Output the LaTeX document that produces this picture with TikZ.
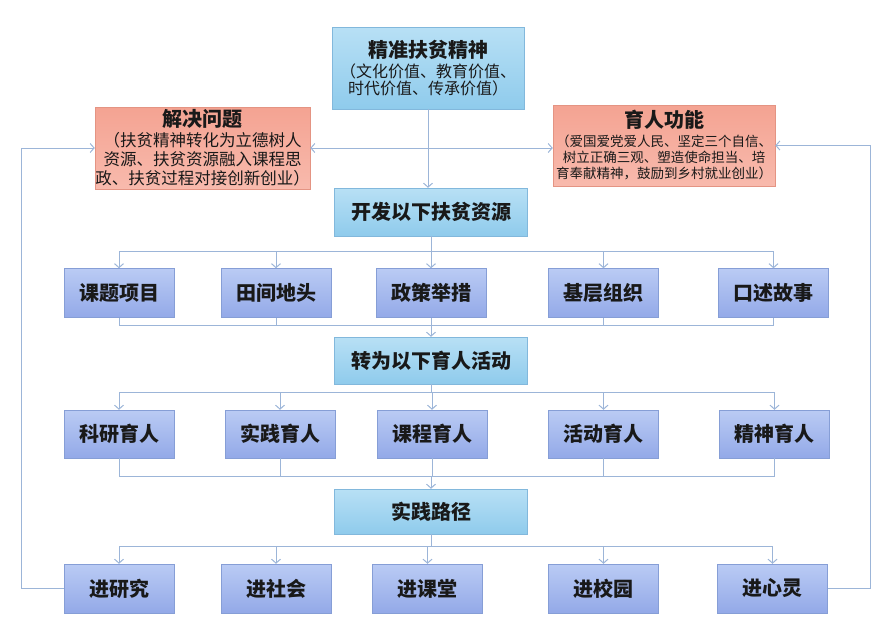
\documentclass[tikz,border=0pt]{standalone}
\usepackage{fontspec}
\setmainfont{Noto Sans CJK SC}
\usetikzlibrary{arrows.meta}

\definecolor{linec}{HTML}{9CB5D8}
\definecolor{mainA}{HTML}{B8E0F5}
\definecolor{mainB}{HTML}{8FCBEC}
\definecolor{mainD}{HTML}{82B8DC}
\definecolor{itemA}{HTML}{BACBF4}
\definecolor{itemB}{HTML}{93A9E8}
\definecolor{itemD}{HTML}{869ED6}
\definecolor{noteA}{HTML}{F4A392}
\definecolor{noteB}{HTML}{F8BAAD}
\definecolor{noteD}{HTML}{E49483}

\tikzset{
    box/.style={inner sep=0pt, text=black!90, font=\bfseries\fontsize{20}{24}\selectfont},
    mainbox/.style={box, draw=mainD, top color=mainA, bottom color=mainB, minimum width=193pt},
    itembox/.style={box, draw=itemD, top color=itemA, bottom color=itemB, minimum width=110pt, minimum height=49pt},
    notebox/.style={box, draw=noteD, top color=noteA, bottom color=noteB, align=center},
    link/.style={draw=linec, line width=1pt},
    arr/.style={link, -{Straight Barb[length=4pt,width=9pt]}},
}

\begin{document}
\begin{tikzpicture}[x=1pt, y=-1pt]
    \useasboundingbox (0,0) rectangle (892,637);

    %Kopf
    \node[mainbox, minimum width=192pt, minimum height=82pt, align=center,
          font=\fontsize{16}{17}\selectfont] (top) at (428,68)
        {{\bfseries\fontsize{20}{24}\selectfont 精准扶贫精神}\\[3pt]（文化价值、教育价值、\\时代价值、传承价值）};
    \node[notebox, minimum width=215pt, minimum height=82pt,
          font=\fontsize{16.5}{19}\selectfont] (jjwt) at (202.5,148)
        {{\bfseries\fontsize{20}{24}\selectfont 解决问题}\\[1pt]（扶贫精神转化为立德树人\\资源、扶贫资源融入课程思\\政、扶贫过程对接创新创业）};
    \node[notebox, minimum width=222pt, minimum height=81pt,
          font=\fontsize{13.5}{16}\selectfont] (yrgn) at (664,145.5)
        {{\bfseries\fontsize{20}{24}\selectfont 育人功能}\\[3pt]（爱国爱党爱人民、坚定三个自信、\\树立正确三观、塑造使命担当、培\\育奉献精神，鼓励到乡村就业创业）};

    %Mittelspalte
    \node[mainbox, minimum height=48pt] (kfzy) at (431,212) {开发以下扶贫资源};
    \node[mainbox, minimum height=47pt] (zwhd) at (431,360.5) {转为以下育人活动};
    \node[mainbox, minimum height=45pt] (sjlj) at (431,511.5) {实践路径};

    %Zeilen
    \foreach \n/\x/\t in {ktxm/119/课题项目, tjdt/276/田间地头, zcjc/431/政策举措, jczz/603.5/基层组织, ksgs/773.5/口述故事} {
        \node[itembox] (\n) at (\x,293) {\t};
    }
    \foreach \n/\x/\t in {kyyr/119/科研育人, sjyr/280/实践育人, kcyr/432/课程育人, hdyr/603.5/活动育人, jsyr/774.5/精神育人} {
        \node[itembox, minimum height=48pt] (\n) at (\x,434) {\t};
    }
    \foreach \n/\x/\t in {jyj/119/进研究, jsh/276/进社会, jkt/427.5/进课堂, jxy/603.5/进校园, jxl/772.5/进心灵} {
        \node[itembox] (\n) at (\x,588.5) {\t};
    }

    %Verbindungen oben
    \draw[arr] (top.south) -- (top.south |- kfzy.north);
    \draw[link, {Straight Barb[length=4pt,width=9pt]}-{Straight Barb[length=4pt,width=9pt]}]
        (jjwt.east) -- (jjwt.east -| yrgn.west);

    %Sammelschienen
    \coordinate (a1) at (0,251);
    \coordinate (b1) at (0,325);
    \coordinate (a2) at (0,392);
    \coordinate (b2) at (0,476);
    \coordinate (a3) at (0,546);
    \draw[link] (kfzy) -- (kfzy.south |- a1);
    \draw[link] (ktxm.north |- a1) -- (ksgs.north |- a1);
    \draw[link] (ktxm.south |- b1) -- (ksgs.south |- b1);
    \draw[link] (zwhd) -- (zwhd.south |- a2);
    \draw[link] (kyyr.north |- a2) -- (jsyr.north |- a2);
    \draw[link] (kyyr.south |- b2) -- (jsyr.south |- b2);
    \draw[link] (sjlj) -- (sjlj.south |- a3);
    \draw[link] (jyj.north |- a3) -- (jxl.north |- a3);
    \foreach \n in {ktxm, tjdt, zcjc, jczz, ksgs} {
        \draw[arr] (\n.north |- a1) -- (\n.north);
        \draw[link] (\n.south) -- (\n.south |- b1);
    }
    \foreach \n in {kyyr, sjyr, kcyr, hdyr, jsyr} {
        \draw[arr] (\n.north |- a2) -- (\n.north);
        \draw[link] (\n.south) -- (\n.south |- b2);
    }
    \foreach \n in {jyj, jsh, jkt, jxy, jxl} {
        \draw[arr] (\n.north |- a3) -- (\n.north);
    }
    \draw[arr] (zwhd.north |- b1) -- (zwhd.north);
    \draw[arr] (sjlj.north |- b2) -- (sjlj.north);

    %Rueckfuehrung
    \draw[arr] (jyj.west) -- ++(-42,0) |- (jjwt.west);
    \draw[arr] (jxl.east) -- ++(43,0) |- (yrgn.east);
\end{tikzpicture}
\end{document}
